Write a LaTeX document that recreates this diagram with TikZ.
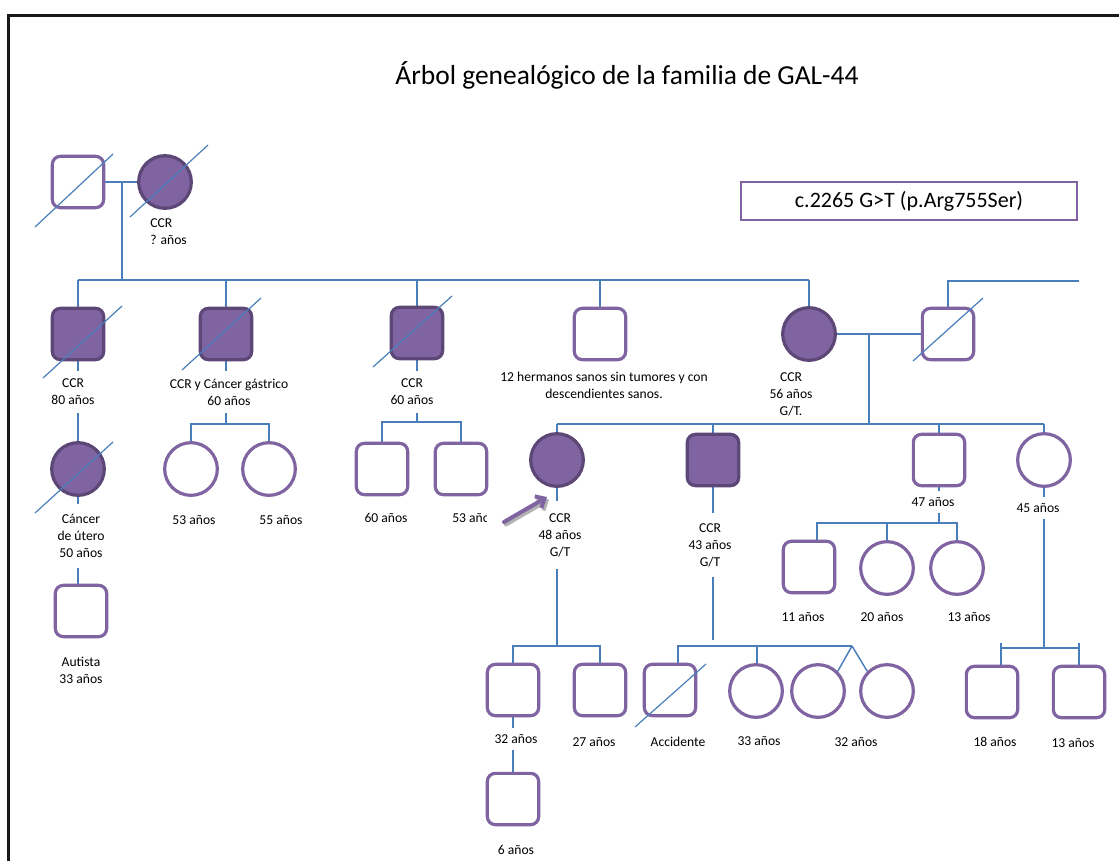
\documentclass[tikz,border=0pt]{standalone}
\usepackage{fontspec}
\setmainfont{Carlito}
\usetikzlibrary{arrows.meta}
\definecolor{lnblue}{HTML}{4A7EBB}
\definecolor{ped}{HTML}{8064A2}
\definecolor{peddark}{HTML}{5C4776}
\pgfdeclarelayer{background}
\pgfsetlayers{background,main}

\begin{document}
\begin{tikzpicture}[x=0.75pt,y=-0.75pt,
  male/.style={rectangle,rounded corners=6pt,minimum size=38.5pt,inner sep=0pt,line width=2.4pt,draw=ped,fill=white},
  female/.style={circle,minimum size=39.5pt,inner sep=0pt,line width=2.4pt,draw=ped,fill=white},
  aff/.style={fill=ped,draw=peddark},
  link/.style={draw=lnblue,line width=1.1pt},
  dead/.style={draw=lnblue,line width=0.9pt},
  lbl/.style={font=\fontsize{10.2}{12.75}\selectfont,align=center,fill=white,inner xsep=1.5pt,inner ysep=6pt},
]
\useasboundingbox (0,0) rectangle (1119,861);

% outer frame
\draw[line width=2.2pt,black!90] (8.5,861) -- (8.5,15.5) -- (1119,15.5);

% title and mutation box
\node[font=\fontsize{20.6}{24}\selectfont,inner sep=0pt] (title) at (627,75) {Árbol genealógico de la familia de GAL-44};
\node[draw=ped,line width=2.2pt,minimum width=252pt,minimum height=28.5pt,inner sep=0pt,font=\fontsize{16.5}{19}\selectfont] (mut) at (909,201) {c.2265 G>T (p.Arg755Ser)};

% ---- generation I
\node[male] (g1m) at (78,182) {};
\node[female,aff] (g1f) at (165,182) {};
\coordinate (g1j) at (122,182);
\coordinate (g2top) at (122,280);

% ---- generation II
\node[male,aff] (a80) at (78,334) {};
\node[male,aff] (gas) at (226,334) {};
\node[male,aff] (c60) at (417,333) {};
\node[male] (her) at (600,334) {};
\node[female,aff] (c56) at (809,334) {};
\node[male] (hus) at (948,334) {};
\coordinate (husfam) at (1079,281);
\coordinate (m2) at (869,334);
\coordinate (g3top) at (869,424);

% ---- descendants of the eldest branches
\node[female,aff] (ute) at (78,469) {};
\node[male] (aut) at (81,611) {};
\coordinate (gasj) at (226,424);
\node[female] (k53) at (191,469) {};
\node[female] (k55) at (269,469) {};
\coordinate (c60j) at (417,422);
\node[male] (k60) at (382,469) {};
\node[male] (k53b) at (461,469) {};

% ---- generation III
\node[female,aff] (p48) at (557,460) {};
\node[male,aff] (c43) at (713,460) {};
\node[male] (s47) at (939,460) {};
\node[female] (f45) at (1044,460) {};

% ---- generation IV
\coordinate (p48j) at (557,646);
\node[male] (q32) at (513,690) {};
\node[male] (q27) at (600,690) {};
\node[male] (q6) at (513,799) {};
\coordinate (c43end) at (713,640);
\coordinate (c43l) at (678,646);
\coordinate (c43m) at (757,646);
\coordinate (twin) at (852,646);
\node[male] (acc) at (670,690) {};
\node[female] (f33) at (756,691) {};
\node[female] (tw1) at (818,691) {};
\node[female] (tw2) at (887,691) {};
\coordinate (s47j) at (939,523);
\coordinate (s47l) at (817,523);
\node[male] (k11) at (809,567) {};
\node[female] (k20) at (887,568) {};
\node[female] (k13) at (957,568) {};
\coordinate (f45j) at (1044,648);
\coordinate (f45l) at (1001,648);
\coordinate (f45r) at (1079,648);
\node[male] (k18) at (992,692) {};
\node[male] (k13b) at (1079,692) {};

% ---- connectors, kept behind the symbols
\begin{pgfonlayer}{background}
\draw[link] (g1m) -- (g1f);
\draw[link] (g1j) -- (g2top);
\draw[link] (a80.north |- g2top) -- (c56.north |- g2top);
\foreach \n in {a80,gas,c60,her,c56} \draw[link] (\n.north |- g2top) -- (\n.north);
\draw[link] (hus.north) -- (hus.north |- husfam) -- (husfam);
\draw[link] (c56) -- (hus);
\draw[link] (m2) -- (g3top);
\draw[link] (p48.north |- g3top) -- (f45.north |- g3top);
\foreach \n in {p48,c43,s47,f45} \draw[link] (\n.north |- g3top) -- (\n.north);

\draw[link] (a80) -- (ute);
\draw[link] (ute.south) -- (ute.south |- aut.north);
\draw[link] (gas.south) -- (gasj);
\draw[link] (k53.north) -- (k53.north |- gasj) -- (k55.north |- gasj) -- (k55.north);
\draw[link] (c60.south) -- (c60j);
\draw[link] (k60.north) -- (k60.north |- c60j) -- (k53b.north |- c60j) -- (k53b.north);

\draw[link] (p48.south) -- (p48j);
\draw[link] (q32.north) -- (q32.north |- p48j) -- (q27.north |- p48j) -- (q27.north);
\draw[link] (q32) -- (q6);
\draw[link] (c43.south) -- (c43end);
\draw[link] (c43l |- acc.north) -- (c43l) -- (twin);
\draw[link] (c43m) -- (c43m |- f33.north);
\draw[link] (twin) -- (tw1.45);
\draw[link] (twin) -- (tw2.135);
\draw[link] (s47.south) -- (s47j);
\draw[link] (s47l |- k11.north) -- (s47l) -- (k13.north |- s47j) -- (k13.north);
\draw[link] (k20.north |- s47j) -- (k20.north);
\draw[link] (f45.south) -- (f45j);
\draw[link] (f45l |- k18.north) -- ([yshift=4pt]f45l);
\draw[link] (f45l) -- (f45r);
\draw[link] ([yshift=4pt]f45r) -- (f45r |- k13b.north);
\end{pgfonlayer}

% ---- labels
\node[lbl,align=left,anchor=west,inner xsep=0pt] (lg1f) at (150,231.5) {CCR\\? años};
\node[lbl] (la80) at (73,392) {CCR\\80 años};
\node[lbl] (lgas) at (229,392) {CCR y Cáncer gástrico\\60 años};
\node[lbl,inner ysep=8pt] (lute) at (81,536) {Cáncer\\de útero\\50 años};
\node[lbl] (laut) at (81,670) {Autista\\33 años};
\node[lbl] (lk53) at (194,520) {53 años};
\node[lbl] (lk55) at (281,520) {55 años};
\node[lbl] (lc60) at (412,392) {CCR\\60 años};
\node[lbl] (lk60) at (386,518) {60 años};
\begin{scope}
  \clip (440,500) rectangle (486.5,540);
  \node[lbl,anchor=west,inner xsep=0pt] (lk53b) at (452,518) {53 años};
\end{scope}
\node[lbl] (lher) at (604,385) {12 hermanos sanos sin tumores y con\\descendientes sanos.};
\node[lbl,inner ysep=1pt] (lc56) at (791,394) {CCR\\56 años\\G/T.};
\node[lbl,inner ysep=9pt] (lp48) at (560,535) {CCR\\48 años\\G/T};
\node[lbl,inner ysep=8pt] (lc43) at (710,545) {CCR\\43 años\\G/T};
\node[lbl,inner ysep=5pt] (ls47) at (933,502) {47 años};
\node[lbl,inner ysep=5pt] (lf45) at (1038,508) {45 años};
\node[lbl] (lk11) at (803,617) {11 años};
\node[lbl] (lk20) at (882,617) {20 años};
\node[lbl] (lk13) at (969,617) {13 años};
\node[lbl,inner ysep=5pt] (lq32) at (516,739) {32 años};
\node[lbl] (lq27) at (594,742) {27 años};
\node[lbl] (lacc) at (678,742) {Accidente};
\node[lbl] (lf33) at (759,741) {33 años};
\node[lbl] (ltw) at (856,742) {32 años};
\node[lbl] (lk18) at (995,742) {18 años};
\node[lbl] (lk13b) at (1073,743) {13 años};
\node[lbl] (lq6) at (516,850) {6 años};

% ---- deceased marks
\draw[dead] (35,227) -- (113,154);
\draw[dead] (130,217) -- (208,145);
\draw[dead] (43,378) -- (122,306);
\draw[dead] (182,370) -- (261,298);
\draw[dead] (373,367) -- (452,296);
\draw[dead] (913,361) -- (983,298);
\draw[dead] (35,513) -- (113,442);
\draw[dead] (635,727) -- (706,664);

% ---- proband arrow
\coordinate (arrtail) at (504,522);
\coordinate (arrtip) at (547,497);
\draw[black!30,line width=3pt,line cap=round,-{Straight Barb[length=5.5pt,width=10pt]}] ([shift={(2,2.5)}]arrtail) -- ([shift={(2,2.5)}]arrtip);
\draw[ped,line width=3pt,line cap=round,-{Straight Barb[length=5.5pt,width=10pt]}] (arrtail) -- (arrtip);
\end{tikzpicture}
\end{document}
